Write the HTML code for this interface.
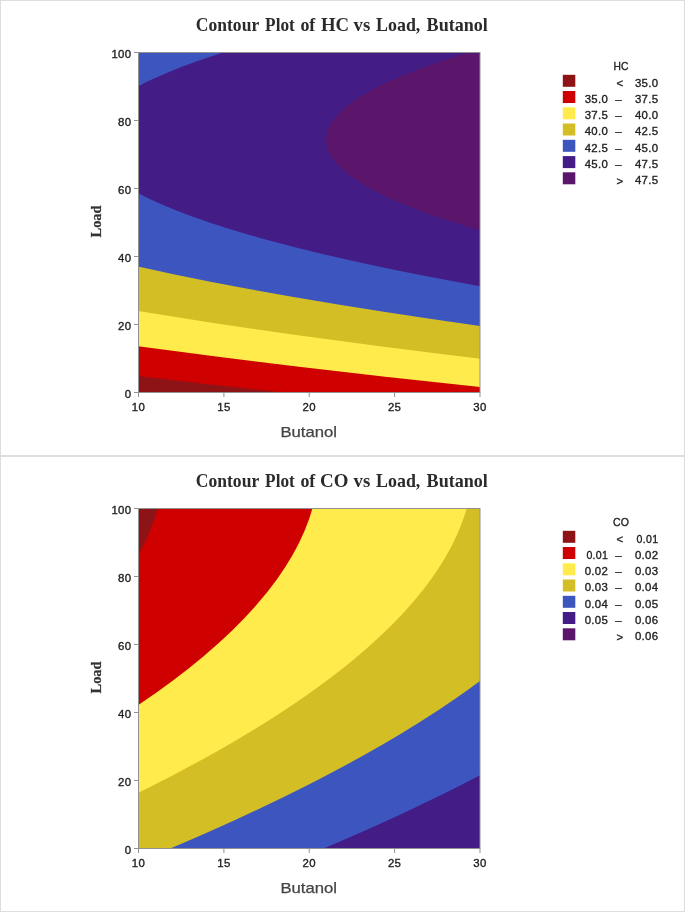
<!DOCTYPE html>
<html><head><meta charset="utf-8"><title>Contour Plots</title>
<style>
html,body{margin:0;padding:0;background:#fff}
svg{display:block}
.t{font-family:"Liberation Serif",serif;font-weight:bold;font-size:17.8px;fill:#2b2b2b}
.k{font-family:"Liberation Sans",sans-serif;font-size:11.4px;letter-spacing:.3px;fill:#222;stroke:#222;stroke-width:.35px}
.xl{font-family:"Liberation Sans",sans-serif;font-size:15px;fill:#444;stroke:#444;stroke-width:.25px}
.yl{font-family:"Liberation Serif",serif;font-weight:bold;font-size:15.6px;fill:#333;stroke:#333;stroke-width:.25px}
</style></head><body>
<svg width="685" height="912" viewBox="0 0 685 912">
<defs><clipPath id="c0"><rect x="138.5" y="52.5" width="341.5" height="340"/></clipPath><clipPath id="c456"><rect x="138.5" y="508.5" width="341.5" height="340"/></clipPath></defs>
<rect width="685" height="912" fill="#fff"/>
<rect x="0.5" y="0.5" width="684" height="455" fill="#fff" stroke="#dedede"/>
<text y="30.6" class="t"><tspan x="195.8" textLength="63.1" lengthAdjust="spacingAndGlyphs">Contour</tspan> <tspan x="265.1" textLength="29.7" lengthAdjust="spacingAndGlyphs">Plot</tspan> <tspan x="300.4" textLength="14.9" lengthAdjust="spacingAndGlyphs">of</tspan> <tspan x="320.9" textLength="28.1" lengthAdjust="spacingAndGlyphs">HC</tspan> <tspan x="353.6" textLength="16.7" lengthAdjust="spacingAndGlyphs">vs</tspan> <tspan x="376.1" textLength="44.2" lengthAdjust="spacingAndGlyphs">Load,</tspan> <tspan x="426.6" textLength="61.3" lengthAdjust="spacingAndGlyphs">Butanol</tspan></text>
<g clip-path="url(#c0)">
<rect x="136.5" y="50.5" width="345.5" height="344.0" fill="#8E1317"/>
<path d="M136.5 50.5L482.0 50.5L482.0 394.5L301.2 394.5L212.4 384.7L136.5 375.9Z" fill="#CE0000"/>
<path d="M136.5 50.5L482.0 50.5L482.0 387.3L383.0 376.5L296.9 366.5L216.2 356.5L136.5 346.0Z" fill="#FFEB4B"/>
<path d="M136.5 50.5L482.0 50.5L482.0 358.9L429.4 352.5L381.9 346.5L294.3 334.7L250.6 328.5L210.2 322.5L136.5 310.8Z" fill="#D4BE25"/>
<path d="M136.5 50.5L482.0 50.5L482.0 326.2L428.2 318.5L382.1 311.5L338.1 304.5L290.7 296.5L246.1 288.5L210.4 281.7L174.6 274.5L136.5 266.3Z" fill="#3D55BF"/>
<path d="M223.1 52.5L229.4 50.5L482.0 50.5L482.0 286.5L424.1 275.7L397.9 270.5L369.2 264.5L342.0 258.5L316.3 252.5L292.1 246.5L269.3 240.5L247.9 234.5L228.0 228.5L209.4 222.5L192.2 216.5L176.4 210.5L161.9 204.5L148.7 198.5L136.5 192.3L136.5 87.2L145.5 82.5L154.0 78.5L172.5 70.5L182.7 66.5L198.4 60.7Z" fill="#431C85"/>
<path d="M468.8 52.5L475.5 50.5L482.0 50.5L482.0 230.7L467.6 226.5L448.4 220.5L430.7 214.5L414.4 208.5L399.6 202.5L390.1 198.4L377.9 192.5L366.8 186.5L358.2 181.3L351.2 176.5L343.7 170.5L337.5 164.5L334.1 160.5L332.2 157.8L330.2 154.5L328.3 150.5L327.6 148.5L327.0 146.5L326.3 142.5L326.2 138.5L326.3 136.5L326.6 134.5L327.7 130.5L328.4 128.5L330.4 124.5L332.2 121.6L334.4 118.5L339.8 112.5L346.5 106.5L354.2 100.8L360.7 96.5L371.1 90.5L382.1 84.8L391.3 80.5L405.3 74.5L420.7 68.5L437.6 62.5L454.0 57.1Z" fill="#5B166B"/>
</g>
<rect x="138.5" y="52.5" width="341.5" height="340.0" fill="none" stroke="#919191" stroke-width="1"/>
<line x1="134.0" x2="138.5" y1="392.5" y2="392.5" stroke="#919191"/>
<text x="131.4" y="397.8" class="k" text-anchor="end">0</text>
<line x1="134.0" x2="138.5" y1="324.5" y2="324.5" stroke="#919191"/>
<text x="131.4" y="329.8" class="k" text-anchor="end">20</text>
<line x1="134.0" x2="138.5" y1="256.5" y2="256.5" stroke="#919191"/>
<text x="131.4" y="261.8" class="k" text-anchor="end">40</text>
<line x1="134.0" x2="138.5" y1="188.5" y2="188.5" stroke="#919191"/>
<text x="131.4" y="193.8" class="k" text-anchor="end">60</text>
<line x1="134.0" x2="138.5" y1="120.5" y2="120.5" stroke="#919191"/>
<text x="131.4" y="125.8" class="k" text-anchor="end">80</text>
<line x1="134.0" x2="138.5" y1="52.5" y2="52.5" stroke="#919191"/>
<text x="131.4" y="57.8" class="k" text-anchor="end">100</text>
<line x1="138.5" x2="138.5" y1="392.5" y2="397.0" stroke="#919191"/>
<text x="138.5" y="410.5" class="k" text-anchor="middle">10</text>
<line x1="223.9" x2="223.9" y1="392.5" y2="397.0" stroke="#919191"/>
<text x="223.9" y="410.5" class="k" text-anchor="middle">15</text>
<line x1="309.2" x2="309.2" y1="392.5" y2="397.0" stroke="#919191"/>
<text x="309.2" y="410.5" class="k" text-anchor="middle">20</text>
<line x1="394.6" x2="394.6" y1="392.5" y2="397.0" stroke="#919191"/>
<text x="394.6" y="410.5" class="k" text-anchor="middle">25</text>
<line x1="480.0" x2="480.0" y1="392.5" y2="397.0" stroke="#919191"/>
<text x="480.0" y="410.5" class="k" text-anchor="middle">30</text>
<text x="308.7" y="436.8" class="xl" text-anchor="middle" textLength="56.6" lengthAdjust="spacingAndGlyphs">Butanol</text>
<text transform="translate(100.8,221.5) rotate(-90)" class="yl" text-anchor="middle" textLength="31.9" lengthAdjust="spacingAndGlyphs">Load</text>
<text x="621.1" y="69.8" class="k" text-anchor="middle" textLength="15.4" lengthAdjust="spacingAndGlyphs">HC</text>
<rect x="562.8" y="74.8" width="12.5" height="12" fill="#8E1317"/>
<text x="620.0" y="87.4" class="k" text-anchor="middle">&lt;</text>
<text x="658.3" y="86.6" class="k" text-anchor="end">35.0</text>
<rect x="562.8" y="91.0" width="12.5" height="12" fill="#CE0000"/>
<text x="608.1" y="102.8" class="k" text-anchor="end">35.0</text>
<text x="618.5" y="102.8" class="k" text-anchor="middle">–</text>
<text x="658.3" y="102.8" class="k" text-anchor="end">37.5</text>
<rect x="562.8" y="107.3" width="12.5" height="12" fill="#FFEB4B"/>
<text x="608.1" y="119.1" class="k" text-anchor="end">37.5</text>
<text x="618.5" y="119.1" class="k" text-anchor="middle">–</text>
<text x="658.3" y="119.1" class="k" text-anchor="end">40.0</text>
<rect x="562.8" y="123.5" width="12.5" height="12" fill="#D4BE25"/>
<text x="608.1" y="135.3" class="k" text-anchor="end">40.0</text>
<text x="618.5" y="135.3" class="k" text-anchor="middle">–</text>
<text x="658.3" y="135.3" class="k" text-anchor="end">42.5</text>
<rect x="562.8" y="139.8" width="12.5" height="12" fill="#3D55BF"/>
<text x="608.1" y="151.6" class="k" text-anchor="end">42.5</text>
<text x="618.5" y="151.6" class="k" text-anchor="middle">–</text>
<text x="658.3" y="151.6" class="k" text-anchor="end">45.0</text>
<rect x="562.8" y="156.1" width="12.5" height="12" fill="#431C85"/>
<text x="608.1" y="167.9" class="k" text-anchor="end">45.0</text>
<text x="618.5" y="167.9" class="k" text-anchor="middle">–</text>
<text x="658.3" y="167.9" class="k" text-anchor="end">47.5</text>
<rect x="562.8" y="172.3" width="12.5" height="12" fill="#5B166B"/>
<text x="620.0" y="184.9" class="k" text-anchor="middle">&gt;</text>
<text x="658.3" y="184.1" class="k" text-anchor="end">47.5</text>
<rect x="0.5" y="456.5" width="684" height="455" fill="#fff" stroke="#dedede"/>
<text y="486.6" class="t"><tspan x="195.8" textLength="63.1" lengthAdjust="spacingAndGlyphs">Contour</tspan> <tspan x="265.1" textLength="29.7" lengthAdjust="spacingAndGlyphs">Plot</tspan> <tspan x="300.4" textLength="14.9" lengthAdjust="spacingAndGlyphs">of</tspan> <tspan x="320.1" textLength="28.3" lengthAdjust="spacingAndGlyphs">CO</tspan> <tspan x="353.6" textLength="16.7" lengthAdjust="spacingAndGlyphs">vs</tspan> <tspan x="376.1" textLength="44.2" lengthAdjust="spacingAndGlyphs">Load,</tspan> <tspan x="426.6" textLength="61.3" lengthAdjust="spacingAndGlyphs">Butanol</tspan></text>
<g clip-path="url(#c456)">
<rect x="136.5" y="506.5" width="345.5" height="344.0" fill="#8E1317"/>
<path d="M157.9 508.5L158.5 506.5L482.0 506.5L482.0 850.5L136.5 850.5L136.5 557.9L143.8 544.5L149.4 532.5L154.1 520.5Z" fill="#CE0000"/>
<path d="M313.0 506.5L482.0 506.5L482.0 850.5L136.5 850.5L136.5 706.3L156.5 692.5L173.0 680.5L188.6 668.5L203.3 656.5L219.3 642.5L232.2 630.5L244.1 618.5L255.1 606.5L266.9 592.5L276.1 580.5L284.3 568.5L291.7 556.5L296.1 548.5L299.2 542.5L304.7 530.5L309.3 518.5Z" fill="#FFEB4B"/>
<path d="M467.3 506.5L482.0 506.5L482.0 850.5L136.5 850.5L136.5 793.8L170.6 776.5L204.2 758.5L218.5 750.5L235.8 740.5L252.5 730.5L265.5 722.5L278.0 714.5L293.1 704.5L307.7 694.5L318.8 686.5L332.3 676.5L342.6 668.5L352.5 660.5L364.3 650.5L375.5 640.5L384.1 632.5L394.2 622.5L401.9 614.5L410.9 604.5L417.7 596.5L425.7 586.5L431.6 578.5L438.4 568.5L443.5 560.5L449.2 550.5L453.4 542.5L458.0 532.5L461.3 524.5L464.9 514.5Z" fill="#D4BE25"/>
<path d="M480.6 680.5L482.0 679.5L482.0 850.5L165.6 850.5L189.0 840.5L211.8 830.5L234.0 820.5L259.8 808.5L280.6 798.5L300.9 788.5L320.5 778.5L343.2 766.5L361.5 756.5L382.7 744.5L399.6 734.5L419.1 722.5L437.8 710.5L452.7 700.5L467.0 690.5Z" fill="#3D55BF"/>
<path d="M481.6 774.5L482.0 774.3L482.0 850.5L319.1 850.5L360.7 832.5L383.0 822.5L404.7 812.5L442.2 794.5L462.2 784.5Z" fill="#431C85"/>
<path d="M481.7 846.5L482.0 846.4L482.0 850.5L472.3 850.5Z" fill="#5B166B"/>
</g>
<rect x="138.5" y="508.5" width="341.5" height="340.0" fill="none" stroke="#919191" stroke-width="1"/>
<line x1="134.0" x2="138.5" y1="848.5" y2="848.5" stroke="#919191"/>
<text x="131.4" y="853.8" class="k" text-anchor="end">0</text>
<line x1="134.0" x2="138.5" y1="780.5" y2="780.5" stroke="#919191"/>
<text x="131.4" y="785.8" class="k" text-anchor="end">20</text>
<line x1="134.0" x2="138.5" y1="712.5" y2="712.5" stroke="#919191"/>
<text x="131.4" y="717.8" class="k" text-anchor="end">40</text>
<line x1="134.0" x2="138.5" y1="644.5" y2="644.5" stroke="#919191"/>
<text x="131.4" y="649.8" class="k" text-anchor="end">60</text>
<line x1="134.0" x2="138.5" y1="576.5" y2="576.5" stroke="#919191"/>
<text x="131.4" y="581.8" class="k" text-anchor="end">80</text>
<line x1="134.0" x2="138.5" y1="508.5" y2="508.5" stroke="#919191"/>
<text x="131.4" y="513.8" class="k" text-anchor="end">100</text>
<line x1="138.5" x2="138.5" y1="848.5" y2="853.0" stroke="#919191"/>
<text x="138.5" y="866.5" class="k" text-anchor="middle">10</text>
<line x1="223.9" x2="223.9" y1="848.5" y2="853.0" stroke="#919191"/>
<text x="223.9" y="866.5" class="k" text-anchor="middle">15</text>
<line x1="309.2" x2="309.2" y1="848.5" y2="853.0" stroke="#919191"/>
<text x="309.2" y="866.5" class="k" text-anchor="middle">20</text>
<line x1="394.6" x2="394.6" y1="848.5" y2="853.0" stroke="#919191"/>
<text x="394.6" y="866.5" class="k" text-anchor="middle">25</text>
<line x1="480.0" x2="480.0" y1="848.5" y2="853.0" stroke="#919191"/>
<text x="480.0" y="866.5" class="k" text-anchor="middle">30</text>
<text x="308.7" y="892.8" class="xl" text-anchor="middle" textLength="56.6" lengthAdjust="spacingAndGlyphs">Butanol</text>
<text transform="translate(100.8,677.5) rotate(-90)" class="yl" text-anchor="middle" textLength="31.9" lengthAdjust="spacingAndGlyphs">Load</text>
<text x="621.1" y="525.8" class="k" text-anchor="middle" textLength="16.3" lengthAdjust="spacingAndGlyphs">CO</text>
<rect x="562.8" y="530.8" width="12.5" height="12" fill="#8E1317"/>
<text x="620.0" y="543.4" class="k" text-anchor="middle">&lt;</text>
<text x="658.3" y="542.6" class="k" text-anchor="end" textLength="21.7" lengthAdjust="spacingAndGlyphs">0.01</text>
<rect x="562.8" y="547.0" width="12.5" height="12" fill="#CE0000"/>
<text x="608.1" y="558.8" class="k" text-anchor="end" textLength="21.7" lengthAdjust="spacingAndGlyphs">0.01</text>
<text x="618.5" y="558.8" class="k" text-anchor="middle">–</text>
<text x="658.3" y="558.8" class="k" text-anchor="end">0.02</text>
<rect x="562.8" y="563.3" width="12.5" height="12" fill="#FFEB4B"/>
<text x="608.1" y="575.1" class="k" text-anchor="end">0.02</text>
<text x="618.5" y="575.1" class="k" text-anchor="middle">–</text>
<text x="658.3" y="575.1" class="k" text-anchor="end">0.03</text>
<rect x="562.8" y="579.5" width="12.5" height="12" fill="#D4BE25"/>
<text x="608.1" y="591.3" class="k" text-anchor="end">0.03</text>
<text x="618.5" y="591.3" class="k" text-anchor="middle">–</text>
<text x="658.3" y="591.3" class="k" text-anchor="end">0.04</text>
<rect x="562.8" y="595.8" width="12.5" height="12" fill="#3D55BF"/>
<text x="608.1" y="607.6" class="k" text-anchor="end">0.04</text>
<text x="618.5" y="607.6" class="k" text-anchor="middle">–</text>
<text x="658.3" y="607.6" class="k" text-anchor="end">0.05</text>
<rect x="562.8" y="612.0" width="12.5" height="12" fill="#431C85"/>
<text x="608.1" y="623.8" class="k" text-anchor="end">0.05</text>
<text x="618.5" y="623.8" class="k" text-anchor="middle">–</text>
<text x="658.3" y="623.8" class="k" text-anchor="end">0.06</text>
<rect x="562.8" y="628.3" width="12.5" height="12" fill="#5B166B"/>
<text x="620.0" y="640.9" class="k" text-anchor="middle">&gt;</text>
<text x="658.3" y="640.1" class="k" text-anchor="end">0.06</text>
</svg></body></html>
